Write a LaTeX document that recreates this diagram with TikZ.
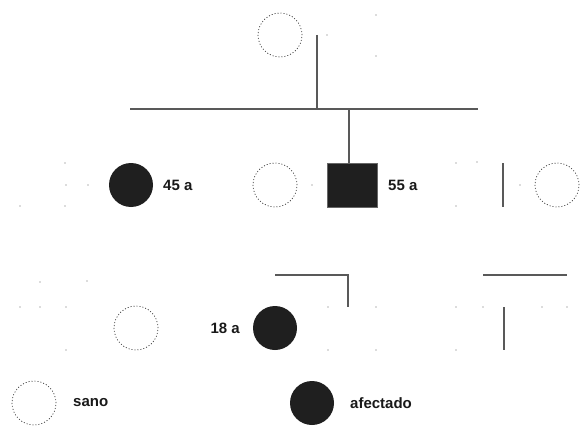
\documentclass[tikz,border=0pt]{standalone}
\usepackage{fontspec}
\setmainfont{Liberation Sans}
\begin{document}
\begin{tikzpicture}[x=1pt,y=-1pt,
  sano/.style={circle,draw=black!80,line width=0.7pt,dash pattern=on 1pt off 2pt,minimum size=44pt,inner sep=0pt},
  afect/.style={circle,fill=black!88,draw=none,minimum size=44pt,inner sep=0pt},
  afectsq/.style={rectangle,fill=black!88,draw=black!60,line width=0.5pt,minimum width=50pt,minimum height=44pt,inner sep=0pt},
  lin/.style={draw=black!65,line width=1.1pt},
  lbl/.style={font=\bfseries\fontsize{15}{17}\selectfont,anchor=west,inner sep=0pt,text=black!90},
  dot/.style={fill=black!60,draw=none}]
\useasboundingbox (0,0) rectangle (584,428);
% generation I
\node[sano] (gm) at (280,35) {};
\coordinate (mI) at (317,35);
\coordinate (sibIL) at (130,109);
\coordinate (sibIR) at (478,109);
\coordinate (sibImid) at (317,109);
\coordinate (sibIb) at (349,109);
% generation II
\node[afect] (a45) at (131,185) {};
\node[lbl] (t45) at (163,185) {45 a};
\node[sano] (wife) at (275,185) {};
\node[afectsq] (a55) at (352,185) {};
\node[lbl] (t55) at (388,185) {55 a};
\node[sano] (rc) at (557,185) {};
\coordinate (rlT) at (503,163);
\coordinate (rlB) at (503,207);
% generation III
\node[sano] (c1) at (136,328) {};
\node[afect] (a18) at (275,328) {};
\node[lbl,anchor=east] (t18) at (240,328) {18 a};
\coordinate (s3a) at (275,275);
\coordinate (s3b) at (348,275);
\coordinate (s3c) at (348,307);
\coordinate (s4a) at (483,275);
\coordinate (s4b) at (567,275);
\coordinate (v4T) at (504,307);
\coordinate (v4B) at (504,350);
% legend
\node[sano] (lsano) at (34,403) {};
\node[lbl] (tsano) at (73,403) {sano};
\node[afect] (lafect) at (312,403) {};
\node[lbl] (tafect) at (350,403) {afectado};
% connectors
\draw[lin] (mI) -- (sibImid);
\draw[lin] (sibIL) -- (sibIR);
\draw[lin] (sibIb) -- (a55.north -| sibIb);
\draw[lin] (rlT) -- (rlB);
\draw[lin] (s3a) -- (s3b) -- (s3c);
\draw[lin] (s4a) -- (s4b);
\draw[lin] (v4T) -- (v4B);
% faint remnants of faded symbols
\foreach \p in {(327,35),(376,15),(376,56),
  (65,163),(66,185),(88,185),(65,206),(20,206),(312,185),
  (456,163),(477,162),(456,206),(520,185),
  (40,282),(87,281),(20,307),(40,307),(66,307),(66,350),
  (328,307),(376,307),(328,350),(376,350),
  (456,307),(483,307),(542,307),(567,307),(456,350)}
  \fill[dot] \p circle (0.7pt);
\end{tikzpicture}
\end{document}
